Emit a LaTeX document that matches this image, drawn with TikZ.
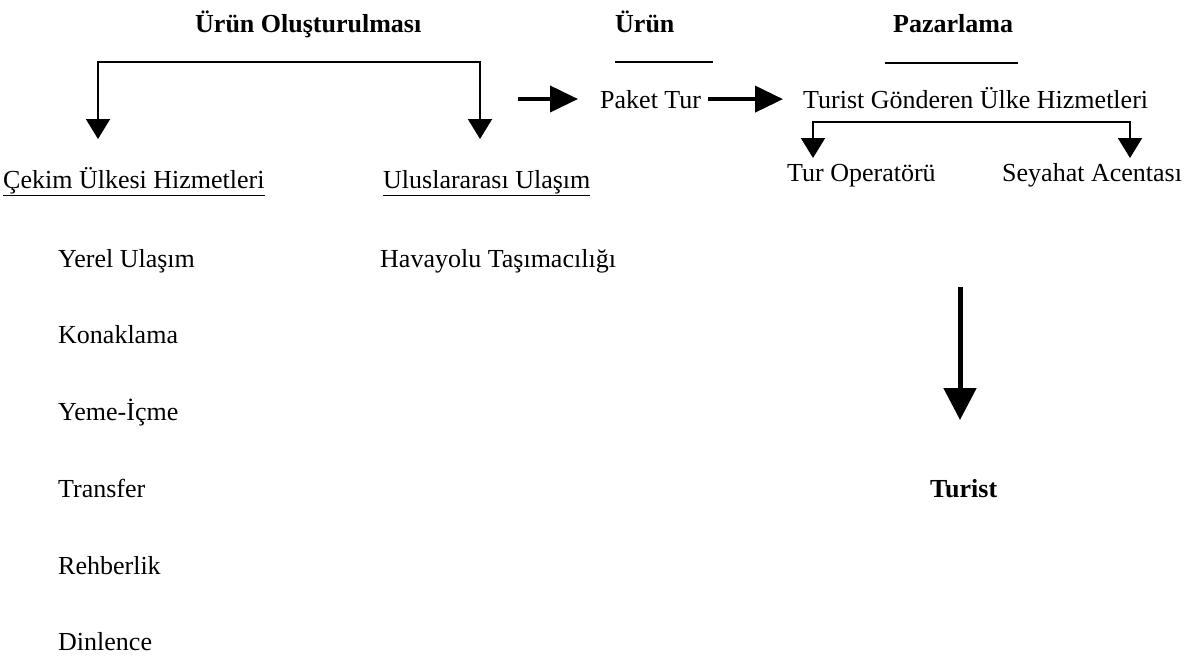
\documentclass[tikz,border=0pt]{standalone}
\usepackage{fontspec}
\setmainfont{Liberation Serif}
\usetikzlibrary{arrows.meta}
\begin{document}
\begin{tikzpicture}[x=1pt,y=-1pt,
  txt/.style={anchor=base west,inner sep=0pt,font=\fontsize{26}{30}\selectfont},
  head/.style={txt,font=\fontsize{26}{30}\selectfont\bfseries},
  branch/.style={line width=2pt,-{Triangle[width=24pt,length=20pt]}},
  blockarrow/.style={line width=4pt,-{Triangle[width=26pt,length=28pt]}},
  bigarrow/.style={line width=5pt,-{Triangle[width=32pt,length=32pt]}},
  rule/.style={line width=1.5pt}]
\useasboundingbox (0,0) rectangle (1188,659);

% headings
\node[head] (olus) at (195,32) {Ürün Oluşturulması};
\node[head] (urun) at (615,32) {Ürün};
\node[head] (paz)  at (893,32) {Pazarlama};
\draw[rule] (615,62) -- (713,62);
\draw[rule] (885,63) -- (1018,63);

% product creation
\node[txt] (cekim) at (3,188) {\underline{Çekim Ülkesi Hizmetleri}};
\node[txt] (ulus)  at (383,188) {\underline{Uluslararası Ulaşım}};
\node[txt] (yerel) at (58,267) {Yerel Ulaşım};
\node[txt] (hava)  at (380,267) {Havayolu Taşımacılığı};
\node[txt] (kon)   at (58,343) {Konaklama};
\node[txt] (yeme)  at (58,420) {Yeme-İçme};
\node[txt] (trans) at (58,497) {Transfer};
\node[txt] (rehb)  at (58,574) {Rehberlik};
\node[txt] (dinl)  at (58,650) {Dinlence};

\coordinate (bl) at (98,62);
\coordinate (br) at (480,62);
\coordinate (tl) at (98,139);
\coordinate (tr) at (480,139);
\draw[branch] (tl |- bl) -- (br) -- (tr);
\draw[branch] (br) -- (bl) -- (tl);

% product and marketing
\node[txt] (paket) at (600,108) {Paket Tur};
\node[txt] (tg)    at (803,108) {Turist Gönderen Ülke Hizmetleri};
\node[txt] (tur)   at (787,181) {Tur Operatörü};
\node[txt] (sey)   at (1002,181) {Seyahat Acentası};
\node[head] (turist) at (930,497) {Turist};

\coordinate (a1s) at (518,99);
\coordinate (a1e) at (578,99);
\draw[blockarrow] (a1s) -- (a1e);
\draw[blockarrow,shorten <=7pt,shorten >=20pt] (paket.east) -- (paket.east -| tg.west);

\coordinate (cl) at (813,122);
\coordinate (cr) at (1130,122);
\coordinate (ctl) at (813,158);
\coordinate (ctr) at (1130,158);
\draw[branch] (cr) -- (cl) -- (ctl);
\draw[branch] (cl) -- (cr) -- (ctr);

\coordinate (vs) at (960,287);
\coordinate (ve) at (960,420);
\draw[bigarrow] (vs) -- (ve);
\end{tikzpicture}
\end{document}
